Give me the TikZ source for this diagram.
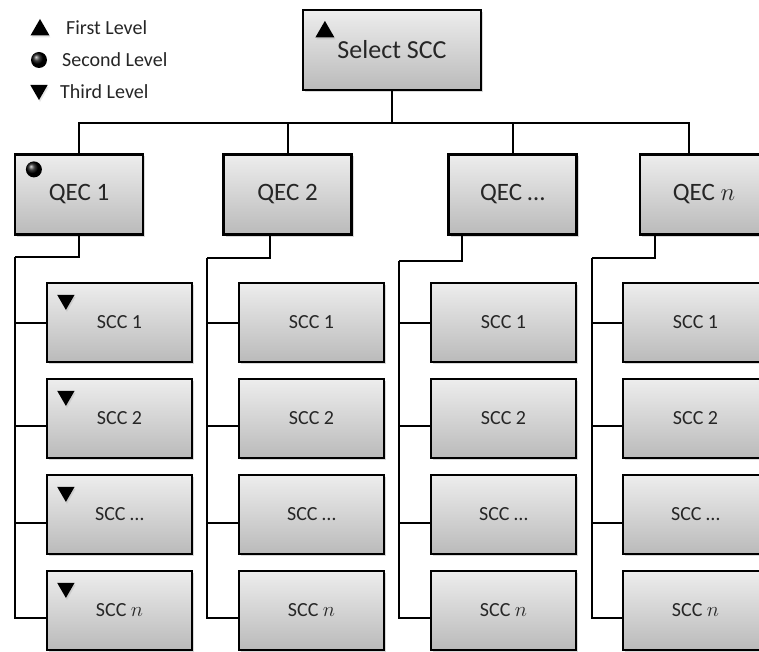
\documentclass[tikz,border=0pt]{standalone}
\usepackage{fontspec}
\setmainfont{Carlito}
\usetikzlibrary{shapes.geometric,shadows,positioning}

\tikzset{
    box/.style={draw, line width=2.2pt, inner sep=0pt, text=black!85,
        top color=black!7, bottom color=black!27,
        drop shadow={opacity=0.3, shadow xshift=2pt, shadow yshift=-2pt}},
    selbox/.style={box, minimum width=178pt, minimum height=80pt,
        font=\fontsize{26}{30}\selectfont},
    qecbox/.style={box, minimum width=128pt, minimum height=80pt,
        font=\fontsize{25}{30}\selectfont},
    sccbox/.style={box, minimum width=145pt, minimum height=79pt,
        font=\fontsize{20}{24}\selectfont},
    link/.style={draw, line width=2pt},
    upmark/.style={regular polygon, regular polygon sides=3, fill=black,
        inner sep=0pt, minimum size=22pt,
        drop shadow={opacity=0.2, shadow xshift=1pt, shadow yshift=-2pt}},
    downmark/.style={upmark, shape border rotate=180, minimum size=20pt},
    ballmark/.style={circle, ball color=black, inner sep=0pt, minimum size=16pt},
    legendtext/.style={anchor=west, inner sep=0pt, text=black!85,
        font=\fontsize{20}{24}\selectfont}
}

\begin{document}
\begin{tikzpicture}[x=1pt, y=-1pt]

    \clip (0,0) rectangle (759,652);

    % Legend
    \node[upmark] (lg1) at (40,30) {};
    \node[legendtext] (lt1) at (66,28) {First Level};
    \node[ballmark] (lg2) at (39,60) {};
    \node[legendtext] (lt2) at (62,60) {Second Level};
    \node[downmark] (lg3) at (39,90) {};
    \node[legendtext] (lt3) at (60,92) {Third Level};

    % First level
    \node[selbox] (sel) at (392,50) {Select SCC};

    % Second level
    \node[qecbox] (qec1) at (79,194.5) {QEC 1};
    \node[qecbox] (qec2) at (287.5,194.5) {QEC 2};
    \node[qecbox] (qec3) at (512.5,194.5) {QEC \dots};
    \node[qecbox] (qec4) at (704,194.5) {QEC $n$};

    % Third level
    \node[sccbox] (scc11) at (119.5,322.5) {SCC 1};
    \node[sccbox] (scc12) at (119.5,418.5) {SCC 2};
    \node[sccbox] (scc13) at (119.5,514.5) {SCC \dots};
    \node[sccbox] (scc14) at (119.5,610.5) {SCC $n$};

    \node[sccbox] (scc21) at (311.5,322.5) {SCC 1};
    \node[sccbox] (scc22) at (311.5,418.5) {SCC 2};
    \node[sccbox] (scc23) at (311.5,514.5) {SCC \dots};
    \node[sccbox] (scc24) at (311.5,610.5) {SCC $n$};

    \node[sccbox] (scc31) at (503.5,322.5) {SCC 1};
    \node[sccbox] (scc32) at (503.5,418.5) {SCC 2};
    \node[sccbox] (scc33) at (503.5,514.5) {SCC \dots};
    \node[sccbox] (scc34) at (503.5,610.5) {SCC $n$};

    \node[sccbox] (scc41) at (695.5,322.5) {SCC 1};
    \node[sccbox] (scc42) at (695.5,418.5) {SCC 2};
    \node[sccbox] (scc43) at (695.5,514.5) {SCC \dots};
    \node[sccbox] (scc44) at (695.5,610.5) {SCC $n$};

    % Level markers
    \node[upmark] (mk0) at ([xshift=23pt,yshift=-23pt]sel.north west) {};
    \node[ballmark] (mk1) at ([xshift=20pt,yshift=-16pt]qec1.north west) {};
    \node[downmark] (mk2) at ([xshift=20pt,yshift=-18pt]scc11.north west) {};
    \node[downmark] (mk3) at ([xshift=20pt,yshift=-18pt]scc12.north west) {};
    \node[downmark] (mk4) at ([xshift=20pt,yshift=-18pt]scc13.north west) {};
    \node[downmark] (mk5) at ([xshift=20pt,yshift=-18pt]scc14.north west) {};

    % Top bus
    \coordinate (bus) at (392,123);
    \draw[link] (sel.south) -- (bus);
    \draw[link] (qec1.north) |- (bus) -| ([xshift=-15pt]qec4.north);
    \draw[link] (qec2.north) -- (qec2.north |- bus);
    \draw[link] (qec3.north) -- (qec3.north |- bus);

    % Spines
    \coordinate (sp1) at (15,257);
    \coordinate (sp2) at (207,258);
    \coordinate (sp3) at (399,261);
    \coordinate (sp4) at (592,258);
    \draw[link] (qec1.south) |- (sp1);
    \draw[link] ([xshift=47.5pt]qec2.south west) |- (sp2);
    \draw[link] ([xshift=14.5pt]qec3.south west) |- (sp3);
    \draw[link] ([xshift=16pt]qec4.south west) |- (sp4);

    % Branches
    \draw[link] (scc11.west) -| (sp1);
    \draw[link] ([yshift=-7pt]scc12.west) -| (sp1);
    \draw[link] ([yshift=-8pt]scc13.west) -| (sp1);
    \draw[link] ([yshift=-7pt]scc14.west) -| (sp1);

    \draw[link] (scc21.west) -| (sp2);
    \draw[link] ([yshift=-7pt]scc22.west) -| (sp2);
    \draw[link] ([yshift=-8pt]scc23.west) -| (sp2);
    \draw[link] ([yshift=-7pt]scc24.west) -| (sp2);

    \draw[link] (scc31.west) -| (sp3);
    \draw[link] ([yshift=-7pt]scc32.west) -| (sp3);
    \draw[link] ([yshift=-8pt]scc33.west) -| (sp3);
    \draw[link] ([yshift=-7pt]scc34.west) -| (sp3);

    \draw[link] (scc41.west) -| (sp4);
    \draw[link] ([yshift=-7pt]scc42.west) -| (sp4);
    \draw[link] ([yshift=-8pt]scc43.west) -| (sp4);
    \draw[link] ([yshift=-7pt]scc44.west) -| (sp4);

\end{tikzpicture}
\end{document}
